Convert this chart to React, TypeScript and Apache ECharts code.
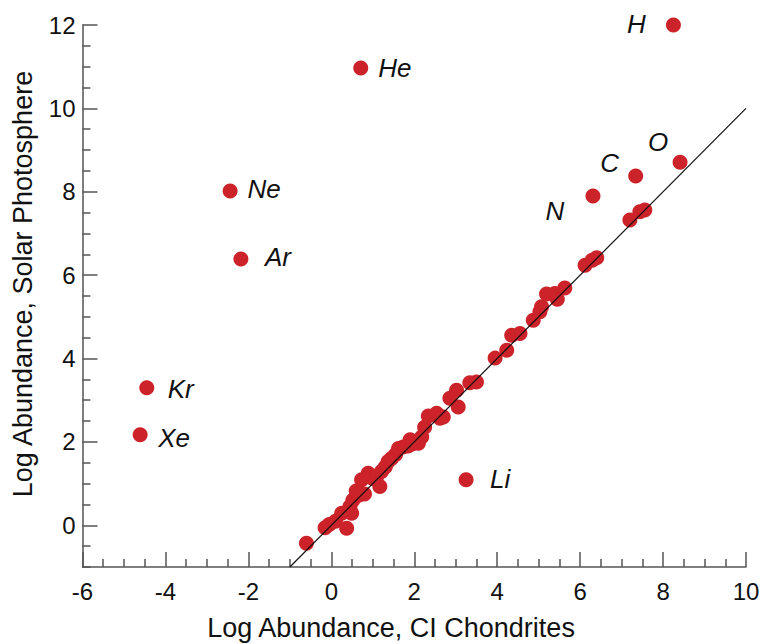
import React, { useEffect, useRef } from "react";
import * as echarts from "echarts";

// Labelled outlier elements
const elementNames = ["H", "He", "C", "N", "O", "Ne", "Ar", "Kr", "Xe", "Li"];
const elementCI = [8.25, 0.71, 7.34, 6.31, 8.41, -2.44, -2.18, -4.45, -4.61, 3.25];
const elementSolar = [12.0, 10.97, 8.38, 7.9, 8.71, 8.02, 6.39, 3.3, 2.17, 1.09];

// Unlabelled elements lying close to the 1:1 line
const clusterCI = [
  -0.6, -0.15, -0.05, 0.1, 0.25, 0.37, 0.45, 0.49, 0.52, 0.6, 0.66, 0.73, 0.8, 0.89, 1.0, 1.1, 1.17,
  1.21, 1.3, 1.37, 1.45, 1.55, 1.62, 1.73, 1.85, 1.9, 1.95, 2.1, 2.18, 2.25, 2.34, 2.54, 2.62, 2.7,
  2.86, 3.02, 3.06, 3.34, 3.5, 3.95, 4.23, 4.35, 4.55, 4.87, 5.03, 5.07, 5.19, 5.39, 5.45, 5.63,
  6.12, 6.29, 6.4, 7.2, 7.44, 7.56,
];
const clusterSolar = [
  -0.43, -0.06, 0.02, 0.1, 0.29, -0.07, 0.45, 0.29, 0.6, 0.82, 0.72, 1.09, 0.75, 1.25, 1.12, 1.18,
  0.93, 1.29, 1.4, 1.53, 1.6, 1.7, 1.84, 1.88, 1.9, 2.05, 1.95, 1.97, 2.12, 2.35, 2.62, 2.69, 2.57,
  2.6, 3.05, 3.24, 2.84, 3.42, 3.44, 4.01, 4.2, 4.56, 4.6, 4.92, 5.12, 5.24, 5.55, 5.56, 5.42, 5.69,
  6.24, 6.36, 6.42, 7.32, 7.52, 7.56,
];

// 1:1 reference line
const lineCI = [-1, 10];
const lineSolar = [-1, 10];

// Axis ticks
const xTickLabels = [-6, -4, -2, 0, 2, 4, 6, 8, 10];
const yTickLabels = [0, 2, 4, 6, 8, 10, 12];

const xTitle = "Log Abundance, CI Chondrites";
const yTitle = "Log Abundance, Solar Photosphere";

// label placement (pixels relative to the point)
const labelOffsets: Record<string, [number, number]> = {
  H: [-37, -1],
  He: [34, 0],
  C: [-26, -13],
  N: [-38, 15],
  O: [-22, -20],
  Ne: [34, -2],
  Ar: [37, -2],
  Kr: [34, 1],
  Xe: [34, 3],
  Li: [34, -1],
};

const FONT = "'Liberation Sans', Arial, Helvetica, sans-serif";
const RED = "#cc2229";
const AXIS = "#555555";
const TEXT = "#111111";

export default function App() {
  const ref = useRef<HTMLDivElement>(null);

  useEffect(() => {
    if (!ref.current) return;
    const chart = echarts.init(ref.current, undefined, { renderer: "svg" });

    const labelled = elementNames.map((name, i) => ({
      name,
      value: [elementCI[i], elementSolar[i]],
      label: {
        show: true,
        position: "inside",
        offset: labelOffsets[name],
        formatter: name,
        fontFamily: FONT,
        fontStyle: "italic",
        fontSize: 26,
        color: TEXT,
      },
    }));
    const cluster = clusterCI.map((x, i) => [x, clusterSolar[i]]);
    const minorY: number[] = [];
    for (let v = -1; v <= 12; v += 0.5) {
      if (!yTickLabels.includes(v)) minorY.push(v);
    }

    chart.setOption({
      animation: false,
      grid: { left: 82.5, right: 19, top: 25, bottom: 77, containLabel: false },
      xAxis: {
        type: "value",
        min: xTickLabels[0],
        max: xTickLabels[xTickLabels.length - 1],
        interval: 2,
        axisLine: { show: true, onZero: false, lineStyle: { color: AXIS, width: 1.5 } },
        axisTick: { show: true, inside: true, length: 15, lineStyle: { color: AXIS, width: 1.5 } },
        minorTick: { show: true, splitNumber: 4, length: 8, lineStyle: { color: AXIS, width: 1.5 } },
        splitLine: { show: false },
        minorSplitLine: { show: false },
        axisLabel: { fontFamily: FONT, fontSize: 24, color: TEXT, margin: 12 },
      },
      yAxis: [
        {
          type: "value",
          min: -1,
          max: 12,
          axisLine: { show: true, onZero: false, lineStyle: { color: AXIS, width: 1.5 } },
          axisTick: {
            show: true,
            inside: true,
            length: 15,
            customValues: yTickLabels,
            lineStyle: { color: AXIS, width: 1.5 },
          },
          axisLabel: {
            fontFamily: FONT,
            fontSize: 24,
            color: TEXT,
            margin: 7,
            customValues: yTickLabels,
          },
          splitLine: { show: false },
        },
        {
          type: "value",
          min: -1,
          max: 12,
          position: "left",
          offset: 0,
          axisLine: { show: false, onZero: false },
          axisTick: {
            show: true,
            inside: true,
            length: 8,
            customValues: minorY,
            lineStyle: { color: AXIS, width: 1.5 },
          },
          axisLabel: { show: false },
          splitLine: { show: false },
        },
      ],
      graphic: [
        {
          type: "text",
          x: 391,
          y: 628,
          style: {
            text: xTitle,
            fontFamily: FONT,
            fontSize: 27,
            fill: TEXT,
            textAlign: "center",
            textVerticalAlign: "middle",
          },
        },
        {
          type: "text",
          x: 23,
          y: 284,
          rotation: Math.PI / 2,
          style: {
            text: yTitle,
            fontFamily: FONT,
            fontSize: 27,
            fill: TEXT,
            textAlign: "center",
            textVerticalAlign: "middle",
          },
        },
      ],
      series: [
        {
          type: "scatter",
          symbol: "circle",
          symbolSize: 15,
          itemStyle: { color: RED, opacity: 1 },
          data: cluster,
          z: 2,
        },
        {
          type: "scatter",
          symbol: "circle",
          symbolSize: 15,
          itemStyle: { color: RED, opacity: 1 },
          data: labelled,
          z: 2,
        },
        {
          type: "line",
          data: lineCI.map((x, i) => [x, lineSolar[i]]),
          showSymbol: false,
          symbol: "none",
          lineStyle: { color: "#111111", width: 1.2 },
          z: 3,
          silent: true,
        },
      ],
    });

    return () => chart.dispose();
  }, []);

  return (
    <div
      ref={ref}
      style={{ position: "fixed", left: 0, top: 0, width: 765, height: 644, background: "#fff" }}
    />
  );
}
